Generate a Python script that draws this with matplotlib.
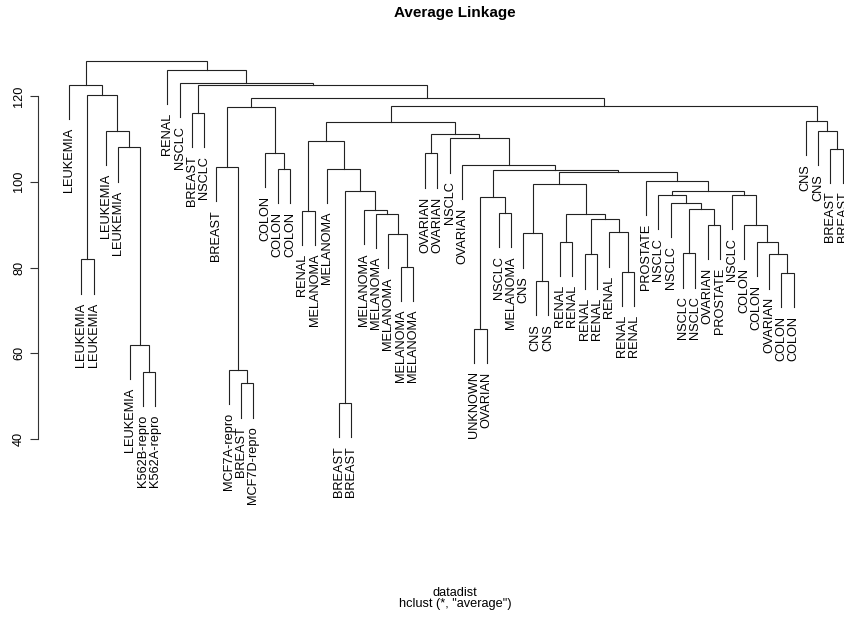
import matplotlib
matplotlib.use('Agg')
import matplotlib.pyplot as plt

plt.rcParams['font.family'] = ['Liberation Sans', 'DejaVu Sans']

# leaf labels in the order they appear on the dendrogram
labels = [
    'LEUKEMIA', 'LEUKEMIA', 'LEUKEMIA', 'LEUKEMIA', 'LEUKEMIA', 'LEUKEMIA',
    'K562B-repro', 'K562A-repro', 'RENAL', 'NSCLC', 'BREAST', 'NSCLC',
    'BREAST', 'MCF7A-repro', 'BREAST', 'MCF7D-repro', 'COLON', 'COLON',
    'COLON', 'RENAL', 'MELANOMA', 'MELANOMA', 'BREAST', 'BREAST',
    'MELANOMA', 'MELANOMA', 'MELANOMA', 'MELANOMA', 'MELANOMA', 'OVARIAN',
    'OVARIAN', 'NSCLC', 'OVARIAN', 'UNKNOWN', 'OVARIAN', 'NSCLC',
    'MELANOMA', 'CNS', 'CNS', 'CNS', 'RENAL', 'RENAL', 'RENAL', 'RENAL',
    'RENAL', 'RENAL', 'RENAL', 'PROSTATE', 'NSCLC', 'NSCLC', 'NSCLC',
    'NSCLC', 'OVARIAN', 'PROSTATE', 'NSCLC', 'COLON', 'COLON', 'OVARIAN',
    'COLON', 'COLON', 'CNS', 'CNS', 'BREAST', 'BREAST',
]

# merges, R style: negative = leaf position, positive = earlier merge row
merge = [
    (-7, -8), (-6, 1), (-2, -3), (-5, 2), (-4, 4), (3, 5), (-1, 6),
    (-11, -12), (-15, -16), (-14, 9), (-13, 10), (-18, -19), (-17, 12),
    (11, 13), (-20, -21), (-23, -24), (-28, -29), (-27, 17), (-26, 18),
    (-25, 19), (16, 20), (-22, 21), (15, 22), (-30, -31), (-34, -35),
    (-36, -37), (25, 26), (-39, -40), (-38, 28), (-41, -42), (-43, -44),
    (-46, -47), (-45, 32), (31, 33), (30, 34), (29, 35), (-51, -52),
    (-53, -54), (37, 38), (-50, 39), (-49, 40), (-59, -60), (-58, 42),
    (-57, 43), (-56, 44), (-55, 45), (41, 46), (-48, 47), (36, 48),
    (27, 49), (-33, 50), (-32, 51), (24, 52), (23, 53), (-63, -64),
    (-62, 55), (-61, 56), (54, 57), (14, 58), (8, 59), (-10, 60),
    (-9, 61), (7, 62),
]

heights = [
    55.7, 62.0, 81.9, 108.0, 111.8, 120.2, 122.6,
    116.1, 53.0, 56.1, 103.4, 103.0, 106.8,
    117.4, 93.2, 48.4, 80.2, 87.8, 92.6,
    93.4, 97.9, 103.0, 109.5, 106.6, 65.8,
    92.7, 96.5, 76.9, 88.0, 86.0, 83.1,
    79.0, 88.2, 91.3, 92.5, 99.6, 83.3,
    90.0, 93.6, 95.1, 96.9, 78.8, 83.1,
    86.0, 90.0, 97.0, 97.9, 100.3, 102.2,
    102.75, 103.9, 110.1, 111.1, 113.9, 107.7,
    111.8, 114.2, 117.7, 119.5, 122.6, 123.0,
    126.1, 128.2,
]

hang = 0.1 * (max(heights) - min(heights))
line_col = '#222222'

fig = plt.figure(figsize=(8.45, 6.17), dpi=100)
ax = fig.add_axes([38.3 / 845, 157 / 617, 806.7 / 845, 420 / 617])

node_x = {}
for k, ((a, b), h) in enumerate(zip(merge, heights), start=1):
    xs, ys = [], []
    for c in (a, b):
        if c < 0:
            cx, cy = -c, h - hang
            ax.annotate(labels[-c - 1], (cx, cy), xytext=(0, -6.3),
                        textcoords='offset points', rotation=90,
                        ha='center', va='top', fontsize=9.2, color='black',
                        annotation_clip=False)
        else:
            cx, cy = node_x[c], heights[c - 1]
        xs.append(cx)
        ys.append(cy)
    ax.plot([xs[0], xs[0], xs[1], xs[1]], [ys[0], h, h, ys[1]],
            color=line_col, linewidth=0.8, solid_joinstyle='miter',
            clip_on=False)
    node_x[k] = (xs[0] + xs[1]) / 2

ax.set_xlim(-1.5, 64.19)
ax.set_ylim(35.15, 133.05)

for s in ['top', 'right', 'bottom']:
    ax.spines[s].set_visible(False)
ax.spines['left'].set_bounds(40, 120)
ax.spines['left'].set_color('#333333')
ax.spines['left'].set_linewidth(0.8)
ax.set_xticks([])
ax.set_yticks([40, 60, 80, 100, 120])
ax.tick_params(axis='y', length=5.5, width=0.8, color='#333333',
               labelrotation=90, labelsize=9.2, pad=4)
for t in ax.get_yticklabels():
    t.set_va('center')

fig.text(455 / 845, 1 - 13 / 617, 'Average Linkage', ha='center',
         va='center', fontsize=11, fontweight='bold')
fig.text(455 / 845, 1 - 592.7 / 617, 'datadist', ha='center', va='center',
         fontsize=9.2)
fig.text(455 / 845, 1 - 603.5 / 617, 'hclust (*, "average")', ha='center',
         va='center', fontsize=9.2)

fig.savefig('out.png', dpi=100)
